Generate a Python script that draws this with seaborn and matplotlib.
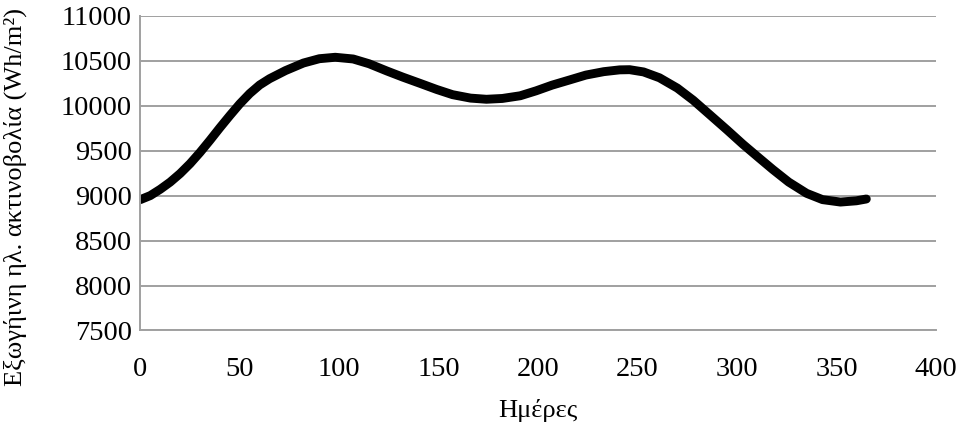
import matplotlib
matplotlib.use("Agg")
import matplotlib.pyplot as plt
import seaborn as sns
import pandas as pd

days = [0, 5, 10, 15, 20, 25, 30, 35, 40, 45, 50, 55, 60, 65, 73, 82, 90, 98,
        107, 115, 124, 132, 141, 149, 157, 166, 174, 182, 191, 199, 207, 216,
        224, 233, 241, 246, 253, 261, 270, 278, 286, 295, 303, 311, 318, 326,
        335, 343, 352, 360, 365]
radiation = [8955, 9000, 9070, 9150, 9245, 9355, 9480, 9615, 9755, 9890, 10020,
             10135, 10230, 10300, 10390, 10474, 10522, 10538,
             10519, 10466, 10385, 10317, 10245, 10180, 10122, 10084, 10071,
             10080, 10110, 10165, 10228, 10287,
             10340, 10378, 10398, 10400, 10375, 10310, 10195, 10060, 9905,
             9730, 9570, 9420, 9290, 9150,
             9025, 8955, 8928, 8942, 8962]
x_ticks = [0, 50, 100, 150, 200, 250, 300, 350, 400]
y_ticks = [7500, 8000, 8500, 9000, 9500, 10000, 10500, 11000]
x_label = "Ημέρες"
y_label = "Εξωγήινη ηλ. ακτινοβολία (Wh/m²)"

df = pd.DataFrame({"day": days, "value": radiation})

sns.set_theme(style="white")
plt.rcParams["font.family"] = ["Liberation Serif", "DejaVu Serif"]

fig = plt.figure(figsize=(9.56, 4.25), dpi=100)
ax = fig.add_axes([0.1468, 0.2224, 0.8322, 0.7406])

sns.lineplot(data=df, x="day", y="value", ax=ax, color="black",
             linewidth=6.4, solid_capstyle="round", solid_joinstyle="round",
             sort=False)

grid_c = "#a0a0a0"
ax.set_xlim(0, 400)
ax.set_ylim(7500, 11000)
ax.set_xticks(x_ticks)
ax.set_yticks(y_ticks)
ax.set_xticklabels([str(t) for t in x_ticks])
ax.set_yticklabels([str(t) for t in y_ticks])
ax.yaxis.grid(True, color=grid_c, linewidth=1.4)
ax.xaxis.grid(False)
ax.set_axisbelow(True)
for s in ["top", "right"]:
    ax.spines[s].set_visible(False)
for s in ["left", "bottom"]:
    ax.spines[s].set_color(grid_c)
    ax.spines[s].set_linewidth(1.4)
ax.tick_params(axis="both", which="major", direction="out", length=5,
               width=1.4, color=grid_c, labelsize=20.5, labelcolor="black")
ax.tick_params(axis="x", pad=14)
ax.tick_params(axis="y", pad=1)

ax.set_xlabel(x_label, fontsize=19, labelpad=12, color="black")
ax.set_ylabel(y_label, fontsize=19, color="black")
ax.yaxis.set_label_coords(-0.1424, 0.424)

fig.savefig("out.png", dpi=100)
